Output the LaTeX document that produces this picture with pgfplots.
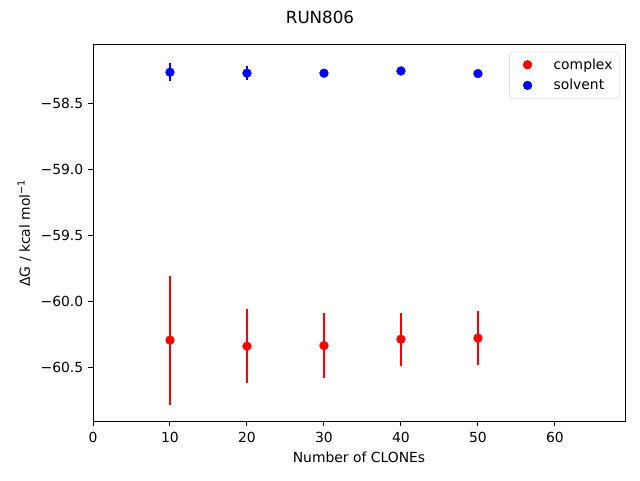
\documentclass[border=0pt]{standalone}
\usepackage{pgfplots}
\pgfplotsset{compat=1.18}
\usepackage{fontspec}
\setmainfont{DejaVu Sans}
\begin{document}
\fontsize{13.9}{16}\selectfont
\begin{tikzpicture}
\path[use as bounding box] (0,0) rectangle (640pt,480pt);
\node at (320pt,463pt) {\fontsize{16.7}{19}\selectfont RUN806};
\begin{axis}[
  at={(93pt,59pt)}, anchor=south west, scale only axis,
  width=532pt, height=376pt,
  xmin=0, xmax=69.1, ymin=-60.909, ymax=-58.053,
  xtick={0,10,20,30,40,50,60}, xticklabels={0,10,20,30,40,50,60},
  ytick={-60.5,-60,-59.5,-59,-58.5},
  yticklabels={−60.5,−60.0,−59.5,−59.0,−58.5},
  tick align=outside, tick pos=left, major tick length=4.9pt,
  every tick/.style={black, line width=1.0pt},
  axis line style={line width=1.0pt},
  tick label style={font=\fontsize{13.9}{16}\selectfont},
  xticklabel style={yshift=-1pt},
  xlabel={Number of CLONEs}, ylabel={ΔG / kcal mol\textsuperscript{−1}},
  label style={font=\fontsize{13.9}{16}\selectfont},
  legend style={at={(0.99,0.982)}, anchor=north east, draw=black!20, rounded corners=3pt,
    font=\fontsize{13.9}{16}\selectfont, row sep=4pt, inner xsep=5pt, inner ysep=4.5pt},
  legend cell align=left,
  legend image code/.code={\path[draw=none] (0pt,0pt) -- (37pt,0pt); \draw[#1] plot coordinates {(13pt,0pt)};},
]
\addplot+[only marks, mark=*, mark size=4.4pt, red, mark options={fill=red, draw=red},
  error bars/.cd, y dir=both, y explicit, error mark=none,
  error bar style={line width=2.08pt, red}]
  coordinates {
  (10,-60.295) +- (0,0.489)
  (20,-60.341) +- (0,0.283)
  (30,-60.336) +- (0,0.249)
  (40,-60.288) +- (0,0.203)
  (50,-60.280) +- (0,0.203)
  };
\addlegendentry{complex}
\addplot+[only marks, mark=*, mark size=4.4pt, blue, mark options={fill=blue, draw=blue},
  error bars/.cd, y dir=both, y explicit, error mark=none,
  error bar style={line width=2.08pt, blue}]
  coordinates {
  (10,-58.260) +- (0,0.070)
  (20,-58.267) +- (0,0.052)
  (30,-58.267) +- (0,0.020)
  (40,-58.250) +- (0,0.030)
  (50,-58.270) +- (0,0.015)
  };
\addlegendentry{solvent}
\end{axis}
\end{tikzpicture}
\end{document}
